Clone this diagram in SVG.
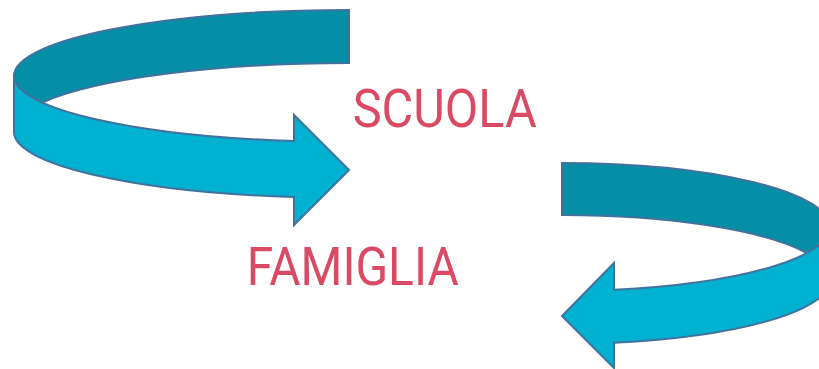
<svg xmlns="http://www.w3.org/2000/svg" width="819" height="369" viewBox="0 0 819 369">
  <style>
    .band { stroke: #41719C; stroke-width: 2; stroke-linejoin: miter; }
    .dark { fill: #058FA7; }
    .light { fill: #00B1D1; }
    .label { font-family: Roboto, "Liberation Sans", sans-serif; font-size: 54px; fill: #DB4A65; }
  </style>
  <rect width="819" height="369" fill="#FFFFFF"/>
  <g id="arrow-top">
    <path class="band dark" d="M349,10 A335,66 0 0 0 14,76 A335,66 0 0 0 42.2,102.5 A335,66 0 0 1 349,63 Z"/>
    <path class="band light" d="M14,76 A335,66 0 0 0 294,141.1 L294,115 L349,170 L294,225 L294,197.1 A335,66 0 0 1 14,132 Z"/>
  </g>
  <g id="arrow-bottom">
    <path class="band dark" d="M562,163 A268,64 0 0 1 830,227 A268,64 0 0 1 806.9,253 A268,64 0 0 0 562,215 Z"/>
    <path class="band light" d="M830,227 A268,64 0 0 1 614,289.8 L614,263 L562,316 L614,368 L614,342.8 A268,64 0 0 0 830,280 Z"/>
  </g>
  <g id="scuola">
    <text class="label" x="352.7" y="126.7" textLength="184" lengthAdjust="spacingAndGlyphs">SCUOLA</text>
  </g>
  <g id="famiglia">
    <text class="label" x="246.7" y="285" textLength="212" lengthAdjust="spacingAndGlyphs">FAMIGLIA</text>
  </g>
</svg>
